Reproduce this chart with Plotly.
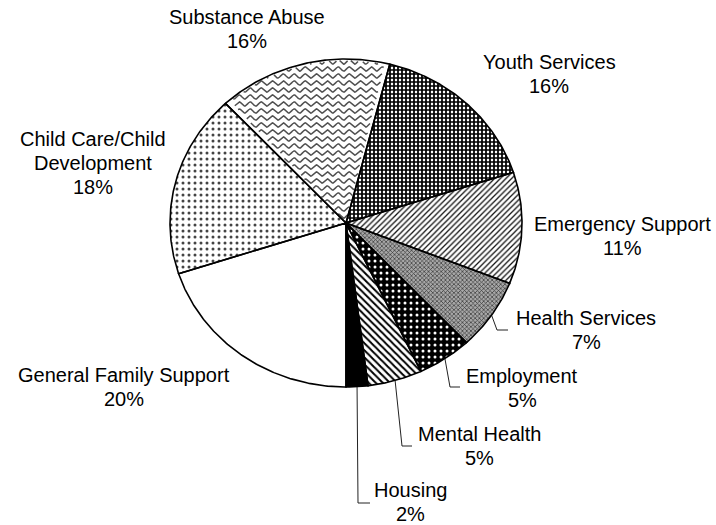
import numpy as np
import plotly.graph_objects as go

# ---- data -------------------------------------------------------------
categories = [
    "General Family Support",
    "Child Care/Child Development",
    "Substance Abuse",
    "Youth Services",
    "Emergency Support",
    "Health Services",
    "Employment",
    "Mental Health",
    "Housing",
]
shares = [20, 18, 16, 16, 11, 7, 5, 5, 2]

# ---- layout of the pie (pixel space, y grows downward) -----------------
W, H = 716, 525
CX, CY = 346, 223          # centre
RX, RY = 176, 164          # horizontal / vertical radius
START_DEG = 180            # first slice starts at 6 o'clock, clockwise

FONT = dict(family="Liberation Sans, Arial, sans-serif", size=20, color="black")
LINE_GAP = 24

fills = {
    "General Family Support": dict(color="white"),
    "Child Care/Child Development": dict(shape=".", fg="#444444", bg="white", size=6, solidity=0.2),
    "Substance Abuse": dict(color="white", wave=True),
    "Youth Services": dict(shape="+", fg="black", bg="white", size=4, solidity=0.68),
    "Emergency Support": dict(shape="/", fg="#111111", bg="white", size=4, solidity=0.32),
    "Health Services": dict(shape="x", fg="#333333", bg="#a8a8a8", size=3, solidity=0.4),
    "Employment": dict(shape=".", fg="white", bg="black", size=6, solidity=0.2),
    "Mental Health": dict(shape="\\", fg="black", bg="white", size=5, solidity=0.4),
    "Housing": dict(color="black"),
}

# label block centres and leader-line routes (elbow, end) in pixels
label_pos = {
    "General Family Support": (124, 387),
    "Child Care/Child Development": (93, 163),
    "Substance Abuse": (247, 29),
    "Youth Services": (549, 74),
    "Emergency Support": (622, 236),
    "Health Services": (586, 330),
    "Employment": (522, 388),
    "Mental Health": (479, 446),
    "Housing": (410, 502),
}
leaders = {
    "Health Services": [(497, 330), (508, 330)],
    "Employment": [(450, 387), (460, 387)],
    "Mental Health": [(402, 446), (412, 446)],
    "Housing": [(358, 503), (370, 503)],
}
wrap = {"Child Care/Child Development": ["Child Care/Child", "Development"]}


def pt(deg, k=1.0):
    t = np.radians(deg)
    return CX + k * RX * np.sin(t), CY - k * RY * np.cos(t)


def inside(x, y, a0, a1):
    dx, dy = (x - CX) / RX, (CY - y) / RY
    if dx * dx + dy * dy > 0.985:
        return False
    ang = np.degrees(np.arctan2(dx, dy)) % 360
    rel = (ang - a0) % 360
    return 1.5 < rel < (a1 - a0) - 1.5


def wave_lines(a0, a1, spacing=7.0, period=11.0, amp=2.1):
    """Horizontal wavy hatch lines clipped to a wedge."""
    xs_out, ys_out = [], []
    for y0 in np.arange(CY - RY + 3, CY + 2, spacing):
        on = False
        for x in np.arange(CX - RX, CX + RX, 0.8):
            y = y0 + amp * np.sin(2 * np.pi * x / period)
            if inside(x, y, a0, a1):
                xs_out.append(x)
                ys_out.append(y)
                on = True
            elif on:
                xs_out.append(None)
                ys_out.append(None)
                on = False
        if on:
            xs_out.append(None)
            ys_out.append(None)
    return xs_out, ys_out


fig = go.Figure()
total = float(sum(shares))
angle = START_DEG
outlines = []
for name, val in zip(categories, shares):
    span = 360.0 * val / total
    a0, a1 = angle, angle + span
    n = max(3, int(span * 2))
    th = np.linspace(a0, a1, n)
    xs, ys = pt(th)
    px = np.concatenate([[CX], xs, [CX]])
    py = np.concatenate([[CY], ys, [CY]])
    f = fills[name]
    kw = {}
    if "shape" in f:
        kw["fillcolor"] = f["bg"]
        kw["fillpattern"] = dict(shape=f["shape"], fgcolor=f["fg"], bgcolor=f["bg"],
                                 size=f["size"], solidity=f["solidity"], fillmode="replace")
    else:
        kw["fillcolor"] = f["color"]
    fig.add_trace(go.Scatter(x=px, y=py, mode="lines", fill="toself",
                             line=dict(color="rgba(0,0,0,0)", width=0),
                             hoverinfo="text", text=name, name=name, **kw))
    if f.get("wave"):
        wx, wy = wave_lines(a0, a1)
        fig.add_trace(go.Scatter(x=wx, y=wy, mode="lines",
                                 line=dict(color="#505050", width=1.5),
                                 hoverinfo="skip", connectgaps=False))
    outlines.append((px, py))

    pct = round(100 * val / total)
    lx, ly = label_pos[name]
    lines = wrap.get(name, [name]) + [f"{pct}%"]
    top = ly - LINE_GAP * (len(lines) - 1) / 2
    for i, txt in enumerate(lines):
        fig.add_annotation(x=lx, y=top + i * LINE_GAP, text=txt, showarrow=False,
                           font=FONT, xanchor="center", yanchor="middle")

    if name in leaders:
        sx, sy = pt((a0 + a1) / 2)
        route = [(sx, sy)] + leaders[name]
        fig.add_trace(go.Scatter(x=[p[0] for p in route], y=[p[1] for p in route],
                                 mode="lines", line=dict(color="#222222", width=1),
                                 hoverinfo="skip"))
    angle = a1

# slice borders drawn last so they sit on top of every fill
for px, py in outlines:
    fig.add_trace(go.Scatter(x=px, y=py, mode="lines",
                             line=dict(color="black", width=1.6), hoverinfo="skip"))

fig.update_layout(
    width=W, height=H,
    margin=dict(l=0, r=0, t=0, b=0),
    paper_bgcolor="white", plot_bgcolor="white",
    showlegend=False,
    xaxis=dict(range=[0, W], visible=False, fixedrange=True),
    yaxis=dict(range=[H, 0], visible=False, fixedrange=True),
)

fig.write_html("out.html", config={"displayModeBar": False})
